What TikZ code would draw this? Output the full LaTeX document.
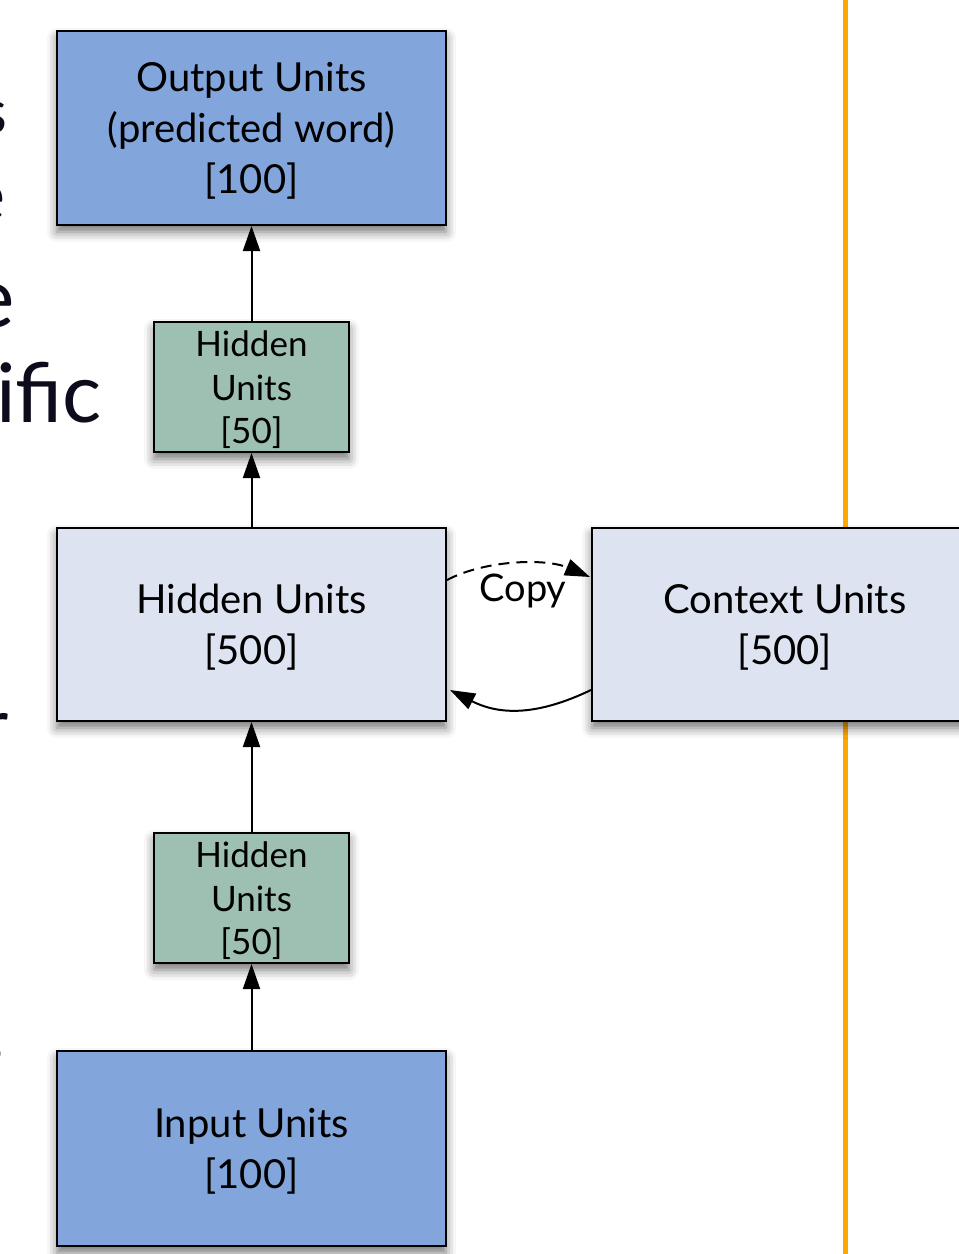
\documentclass[tikz,border=0pt]{standalone}
\usepackage{fontspec}
\setmainfont{Lato}
\usetikzlibrary{arrows.meta,shadows.blur}
\definecolor{outblue}{RGB}{130,166,220}
\definecolor{hidgreen}{RGB}{157,192,179}
\definecolor{hidpale}{RGB}{221,227,241}
\definecolor{orangeline}{RGB}{255,168,0}
\definecolor{slidetext}{RGB}{12,12,28}
\tikzset{
  unitbox/.style={draw=black, line width=2pt, inner sep=0pt,
    blur shadow={shadow xshift=0pt, shadow yshift=-7pt, shadow blur radius=10pt, shadow opacity=55}},
  bigbox/.style={unitbox, minimum width=389pt, minimum height=194pt},
  smallbox/.style={unitbox, fill=hidgreen, minimum width=195pt, minimum height=130pt},
  bigtext/.style={inner sep=0pt, align=center, font=\fontsize{40}{51}\selectfont},
  smalltext/.style={inner sep=0pt, align=center, font=\fontsize{35}{43.5}\selectfont},
  arr/.style={line width=2pt, -{Triangle[length=25pt,width=17pt]}},
  frag/.style={anchor=base east, text=slidetext, inner sep=0pt},
}
\begin{document}
\begin{tikzpicture}[x=1pt,y=-1pt]
\useasboundingbox (0,0) rectangle (959,1254);
\clip (0,0) rectangle (959,1254);
% slide text fragments at the left edge
\node[frag, font=\fontsize{62}{62}\selectfont] (f1) at (8,133) {s};
\node[frag, font=\fontsize{72}{72}\selectfont] (f2) at (6,220) {e};
\node[frag, font=\fontsize{84}{84}\selectfont] (f3) at (15,327) {e};
\node[frag, font=\fontsize{82}{82}\selectfont] (f4) at (102,422) {ific};
\node[frag, font=\fontsize{72}{72}\selectfont] (f5) at (9,750) {r};
\node[frag, font=\fontsize{62}{62}\selectfont] (f6) at (4,1063) {s};
% orange divider
\draw[orangeline, line width=5pt] (845,-5) -- (845,1260);
% boxes
\node[bigbox, fill=outblue] (out) at (251.5,128) {};
\node[smallbox] (h50a) at (251.5,387) {};
\node[bigbox, fill=hidpale, minimum height=193pt] (h500) at (251.5,624.5) {};
\node[bigbox, fill=hidpale, minimum height=193pt, minimum width=386pt] (ctx) at (785,624.5) {};
\node[smallbox] (h50b) at (251.5,898) {};
\node[bigbox, fill=outblue, minimum height=195pt] (inp) at (251.5,1148.5) {};
% box texts
\node[bigtext] (outt) at ([yshift=-3pt]out.center) {Output Units\\(predicted word)\\{[100]}};
\node[smalltext] (h50at) at ([yshift=-3pt]h50a.center) {Hidden\\Units\\{[50]}};
\node[bigtext] (h500t) at ([yshift=-3pt]h500.center) {Hidden Units\\{[500]}};
\node[bigtext] (ctxt) at ([yshift=-3pt]ctx.center) {Context Units\\{[500]}};
\node[smalltext] (h50bt) at ([yshift=-3pt]h50b.center) {Hidden\\Units\\{[50]}};
\node[bigtext] (inpt) at ([yshift=-3pt]inp.center) {Input Units\\{[100]}};
% vertical connectors
\draw[arr] (h50a.north) -- (out.south);
\draw[arr] (h500.north) -- (h50a.south);
\draw[arr] (h50b.north) -- (h500.south);
\draw[arr] (inp.north) -- (h50b.south);
% copy (dashed) and return connectors
\coordinate (cs) at ([yshift=44.5pt]h500.east);
\coordinate (ce) at ([xshift=-1pt,yshift=47.5pt]ctx.west);
\draw[arr, dashed, dash pattern=on 11pt off 7pt] (cs) .. controls (485,560) and (545,558) .. (ce);
\node[font=\fontsize{38}{38}\selectfont, inner sep=0pt] (copy) at (523,591) {Copy};
\coordinate (rs) at ([yshift=-65.5pt]ctx.west);
\coordinate (re) at ([xshift=3pt,yshift=-65.5pt]h500.east);
\draw[arr] (rs) .. controls (545,712) and (505,718) .. (re);
\end{tikzpicture}
\end{document}
